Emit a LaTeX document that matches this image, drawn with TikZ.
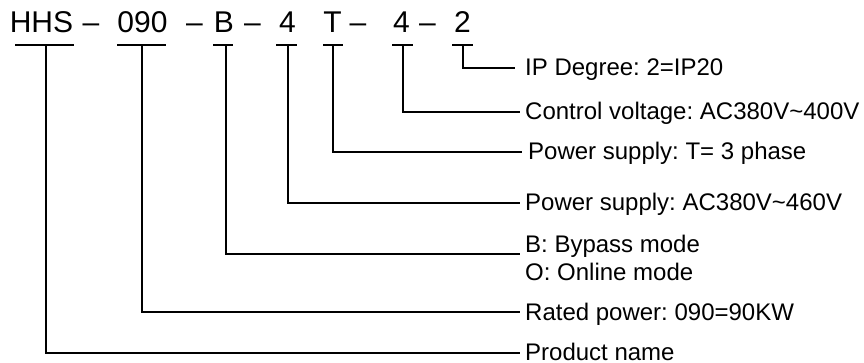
\documentclass[tikz,border=0pt]{standalone}
\usepackage{fontspec}
\setmainfont{Liberation Sans}
\frenchspacing

\begin{document}
\begin{tikzpicture}[x=1pt, y=-1pt,
	code/.style={anchor=base, inner sep=0pt, font=\fontsize{30}{36}\selectfont},
	desc/.style={anchor=base west, inner sep=0pt, font=\fontsize{24}{29}\selectfont},
	lead/.style={line width=2pt, line join=miter}]
	\useasboundingbox (0, 0) rectangle (864, 363);
	% type code
	\node [code] (cHHS) at (41.5, 33) {HHS};
	\node [code] (dA) at (91, 33) {\textendash};
	\node [code] (cPow) at (142.5, 33) {090};
	\node [code] (dB) at (194.5, 33) {\textendash};
	\node [code] (cMode) at (224, 33) {B};
	\node [code] (dC) at (252.5, 33) {\textendash};
	\node [code] (cVolt) at (287.5, 33) {4};
	\node [code] (cPhase) at (332.5, 33) {T};
	\node [code] (dD) at (358, 33) {\textendash};
	\node [code] (cCtrl) at (401.5, 33) {4};
	\node [code] (dE) at (427.5, 33) {\textendash};
	\node [code] (cIP) at (462.5, 33) {2};
	% bars under the code
	\draw [lead] (15, 45) -- (74, 45);
	\draw [lead] (117, 45) -- (166, 45);
	\draw [lead] (213, 45) -- (233, 45);
	\draw [lead] (276, 45) -- (297, 45);
	\draw [lead] (323, 45) -- (343, 45);
	\draw [lead] (392, 45) -- (413, 45);
	\draw [lead] (452, 45) -- (473, 45);
	\coordinate (bHHS) at (46, 45);
	\coordinate (bPow) at (142, 45);
	\coordinate (bMode) at (226, 45);
	\coordinate (bVolt) at (288, 45);
	\coordinate (bPhase) at (333, 45);
	\coordinate (bCtrl) at (403, 45);
	\coordinate (bIP) at (463, 45);
	% descriptions
	\node [desc] (lIP) at (525, 76) {IP Degree: 2=IP20};
	\node [desc] (lCtrl) at (525, 120) {Control voltage: AC380V\textasciitilde400V};
	\node [desc] (lPhase) at (528, 160) {Power supply: T= 3 phase};
	\node [desc] (lVolt) at (525, 211) {Power supply: AC380V\textasciitilde460V};
	\node [desc] (lMode) at (525, 252) {B: Bypass mode};
	\node [desc] (lModeO) at (525, 280) {O: Online mode};
	\node [desc] (lPow) at (525, 320) {Rated power: 090=90KW};
	\node [desc] (lHHS) at (525, 360) {Product name};
	% leads
	\draw [lead] (bIP) |- ([xshift=-10pt, yshift=8pt]lIP.base west);
	\draw [lead] (bCtrl) |- ([xshift=-5pt, yshift=8pt]lCtrl.base west);
	\draw [lead] (bPhase) |- ([xshift=-6pt, yshift=8pt]lPhase.base west);
	\draw [lead] (bVolt) |- ([xshift=-5pt, yshift=8pt]lVolt.base west);
	\draw [lead] (bMode) |- ([xshift=-5pt, yshift=-2pt]lMode.base west);
	\draw [lead] (bPow) |- ([xshift=-5pt, yshift=8pt]lPow.base west);
	\draw [lead] (bHHS) |- ([xshift=-5pt, yshift=7pt]lHHS.base west);
\end{tikzpicture}
\end{document}
